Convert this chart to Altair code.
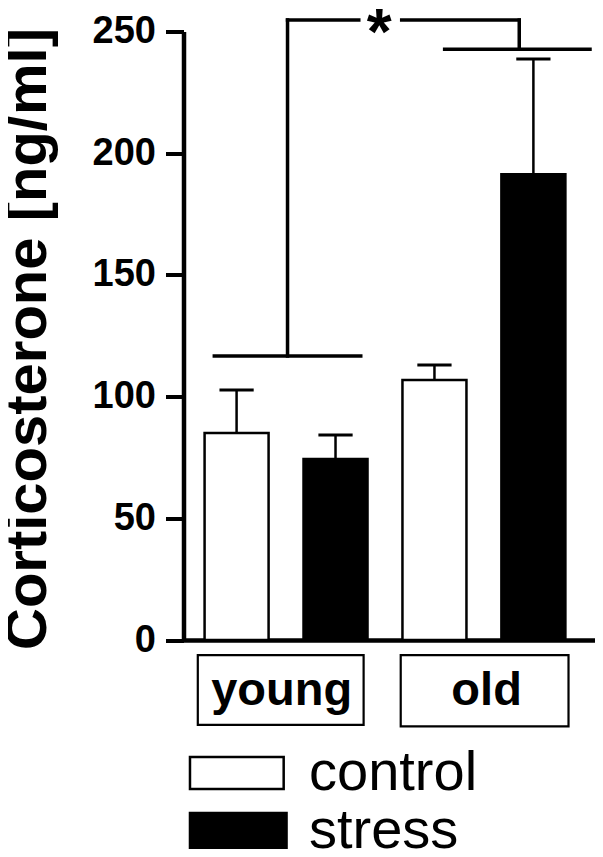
import altair as alt
import pandas as pd

# ---- data ----
groups = ["young", "young", "old", "old"]
conditions = ["control", "stress", "control", "stress"]
means = [85.0, 74.4, 106.8, 191.4]
sems = [17.7, 9.8, 6.2, 47.3]
y_ticks = [0, 50, 100, 150, 200, 250]
y_title = "Corticosterone [ng/ml]"
group_labels = ["young", "old"]
legend_labels = ["control", "stress"]
legend_fills = ["white", "black"]
sig_label = "*"

FONT = "Liberation Sans"
PX = 101.4           # pixels per x unit
W, H = 411.5, 608.5  # plot area
XMAX = W / PX
OFF = 0.486          # first bar centre offset

xs = alt.Scale(domain=[0, XMAX], nice=False, zero=False)
ys = alt.Scale(domain=[0, 250], nice=False, zero=True)

bars_df = pd.DataFrame({
    "group": groups,
    "condition": conditions,
    "mean": means,
    "sem": sems,
    "pos": [i + OFF for i in range(len(means))],
})
bars_df["top"] = bars_df["mean"] + bars_df["sem"]
cap = 0.173
bars_df["cl"] = bars_df["pos"] - cap
bars_df["cr"] = bars_df["pos"] + cap

base = alt.Chart(bars_df)

y_axis = alt.Axis(
    values=y_ticks, title=y_title, grid=False,
    labelFont=FONT, labelFontSize=38, labelFontWeight="bold", labelColor="black",
    labelPadding=10, tickSize=18, tickWidth=4, tickColor="black",
    domainColor="black", domainWidth=4.5,
    titleFont=FONT, titleFontSize=58, titleFontWeight="bold", titleColor="black",
    titleAngle=270, titleX=-155.5, titleY=307, titleAlign="center",
    titleBaseline="middle")
x_axis = alt.Axis(labels=False, ticks=False, grid=False, title=None,
                  domainColor="black", domainWidth=4.5)

err_v = base.mark_rule(color="black", strokeWidth=2.5).encode(
    x=alt.X("pos:Q", scale=xs, axis=x_axis),
    y=alt.Y("mean:Q", scale=ys, axis=y_axis),
    y2="top:Q",
)
err_cap = base.mark_rule(color="black", strokeWidth=3).encode(
    x=alt.X("cl:Q", scale=xs), x2="cr:Q", y=alt.Y("top:Q", scale=ys)
)
bars = base.mark_bar(width=64, stroke="black", strokeWidth=2.5).encode(
    x=alt.X("pos:Q", scale=xs),
    y=alt.Y("mean:Q", scale=ys),
    fill=alt.Fill("condition:N", scale=alt.Scale(domain=legend_labels, range=legend_fills),
                  legend=None),
)

# ---- significance brackets (layout positions) ----
segs = pd.DataFrame([
    {"x": 0.261, "x2": 1.741, "y": 116.7, "y2": 116.7},
    {"x": 1.001, "x2": 1.001, "y": 116.7, "y2": 254.7},
    {"x": 1.001, "x2": 1.721, "y": 254.7, "y2": 254.7},
    {"x": 2.155, "x2": 3.343, "y": 254.7, "y2": 254.7},
    {"x": 3.343, "x2": 3.343, "y": 254.7, "y2": 242.7},
    {"x": 2.589, "x2": XMAX, "y": 242.7, "y2": 242.7},
])
brackets = alt.Chart(segs).mark_rule(color="black", strokeWidth=3.5, strokeCap="square").encode(
    x=alt.X("x:Q", scale=xs), x2="x2:Q", y=alt.Y("y:Q", scale=ys), y2="y2:Q"
)
star = alt.Chart(pd.DataFrame({"t": [sig_label], "x": [1.928], "y": [240.7]})).mark_text(
    font=FONT, fontSize=64, fontWeight="bold", color="black", baseline="alphabetic",
    align="center").encode(x=alt.X("x:Q", scale=xs), y=alt.Y("y:Q", scale=ys), text="t:N")

# ---- group label boxes ----
box_df = pd.DataFrame({
    "label": group_labels,
    "x": [0.094, 2.145], "x2": [1.770, 3.841],
    "y": [-6.2, -6.2], "y2": [-34.9, -35.5],
    "tx": [0.942, 3.013], "ty": [-26.7, -26.7],
})
boxes = alt.Chart(box_df).mark_rect(fill="white", stroke="black", strokeWidth=2.2).encode(
    x=alt.X("x:Q", scale=xs), x2="x2:Q", y=alt.Y("y:Q", scale=ys), y2="y2:Q"
)
box_text = alt.Chart(box_df).mark_text(font=FONT, fontSize=47, fontWeight="bold",
                                       color="black", baseline="alphabetic").encode(
    x=alt.X("tx:Q", scale=xs), y=alt.Y("ty:Q", scale=ys), text="label:N"
)

# ---- legend ----
leg_df = pd.DataFrame({
    "label": legend_labels,
    "fill": legend_fills,
    "x": [0.015, 0.015], "x2": [0.962, 0.991],
    "y": [-48.1, -71.1], "y2": [-61.2, -85.9],
    "tx": [1.218, 1.218], "ty": [-61.6, -85.5],
})
leg_rect = alt.Chart(leg_df).mark_rect(stroke="black", strokeWidth=2.5).encode(
    x=alt.X("x:Q", scale=xs), x2="x2:Q", y=alt.Y("y:Q", scale=ys), y2="y2:Q",
    fill=alt.Fill("fill:N", scale=None),
)
leg_text = alt.Chart(leg_df).mark_text(font=FONT, fontSize=56, color="black",
                                       align="left", baseline="alphabetic").encode(
    x=alt.X("tx:Q", scale=xs), y=alt.Y("ty:Q", scale=ys), text="label:N"
)

chart = alt.layer(
    err_v, err_cap, bars, brackets, star, boxes, box_text, leg_rect, leg_text
).properties(
    width=W, height=H,
    autosize=alt.AutoSizeParams(type="none"),
    padding={"left": 175.5, "top": 23.5, "right": 0, "bottom": 209},
    background="white",
).configure_view(stroke=None)

chart.save("out.html", embed_options={"renderer": "svg", "actions": False})
